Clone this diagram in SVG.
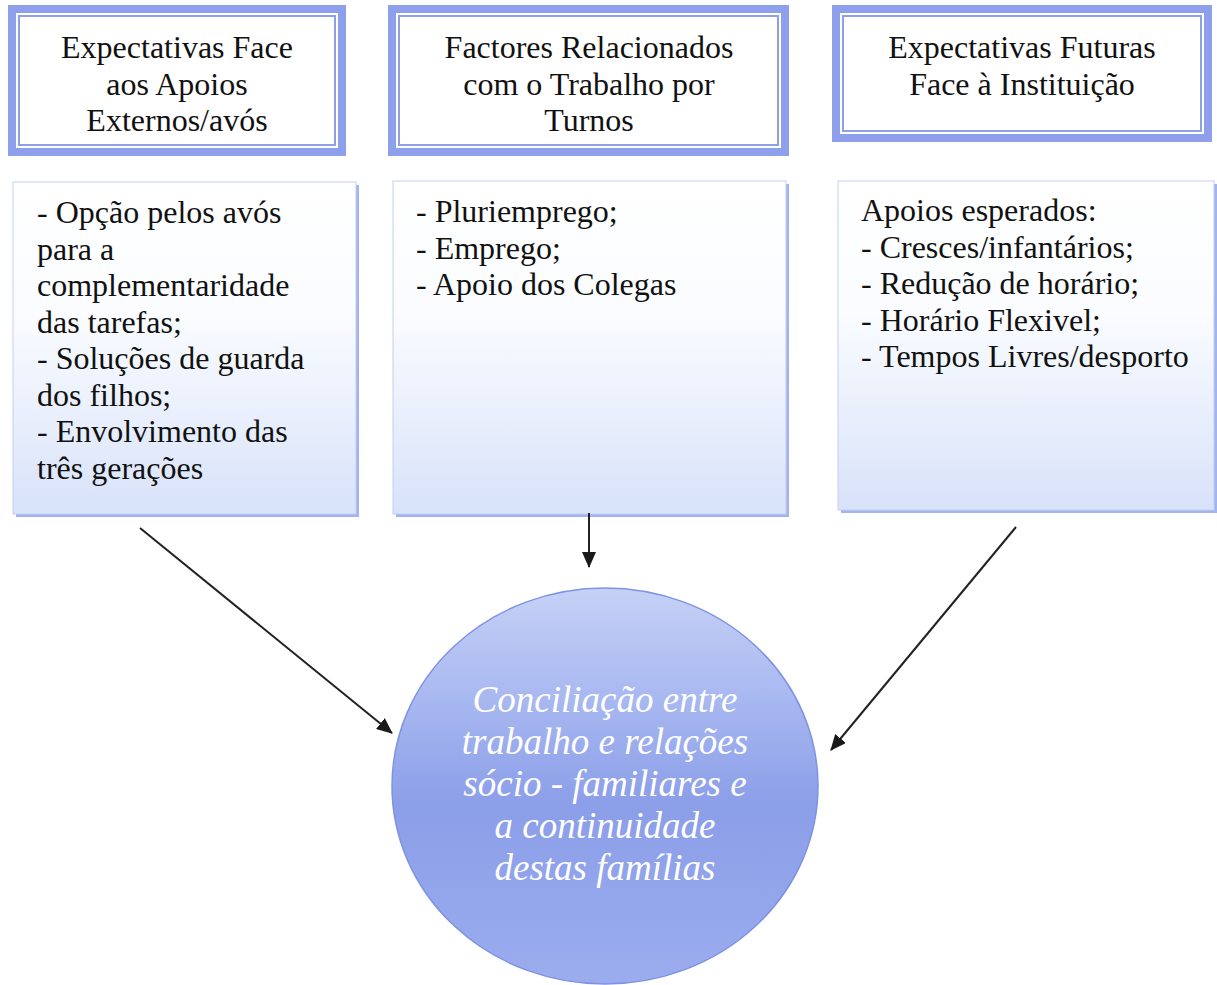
<svg xmlns="http://www.w3.org/2000/svg" width="1217" height="985" viewBox="0 0 1217 985">
<style>
.hdr-outer{fill:none;stroke:#8e9feb;stroke-width:8}
.hdr-inner{fill:none;stroke:#8e9feb;stroke-width:2}
.hdr-bg{fill:#ffffff}
.t{font-family:"Liberation Serif","Times New Roman",serif;font-size:32px;fill:#111}
.hc{text-anchor:middle}
.shadow{fill:#a3b3ec}
.cbox{fill:url(#boxGrad);stroke:#c3cff4;stroke-width:1}
.ct{font-family:"Liberation Serif","Times New Roman",serif;font-size:37px;font-style:italic;fill:#ffffff;text-anchor:middle}
.conn{stroke:#222;stroke-width:2;fill:none;marker-end:url(#arr)}
</style>
<defs>
<linearGradient id="boxGrad" x1="0" y1="0" x2="0" y2="1">
<stop offset="0" stop-color="#ffffff"/>
<stop offset="0.4" stop-color="#fafcff"/>
<stop offset="1" stop-color="#d8e2f9"/>
</linearGradient>
<linearGradient id="circGrad" x1="0" y1="0" x2="0" y2="1">
<stop offset="0" stop-color="#c6d1f6"/>
<stop offset="0.3" stop-color="#a6b6f0"/>
<stop offset="0.55" stop-color="#8b9ee8"/>
<stop offset="1" stop-color="#9badee"/>
</linearGradient>
<marker id="arr" markerWidth="16" markerHeight="14" refX="15" refY="7" orient="auto" markerUnits="userSpaceOnUse">
<path d="M0,0 L16,7 L0,14 Z" fill="#1a1a1a"/>
</marker>
</defs>
<rect width="1217" height="985" fill="#ffffff"/>

<g id="header1">
<rect class="hdr-bg" x="12" y="9" width="330" height="143"/>
<rect class="hdr-outer" x="12" y="9" width="330" height="143"/>
<rect class="hdr-inner" x="19" y="16" width="316" height="129"/>
<text class="t hc" x="177" y="58">Expectativas Face</text>
<text class="t hc" x="177" y="95">aos Apoios</text>
<text class="t hc" x="177" y="131">Externos/avós</text>
</g>

<g id="header2">
<rect class="hdr-bg" x="392" y="9" width="393" height="143"/>
<rect class="hdr-outer" x="392" y="9" width="393" height="143"/>
<rect class="hdr-inner" x="399" y="16" width="379" height="129"/>
<text class="t hc" x="589" y="58">Factores Relacionados</text>
<text class="t hc" x="589" y="95">com o Trabalho por</text>
<text class="t hc" x="589" y="131">Turnos</text>
</g>

<g id="header3">
<rect class="hdr-bg" x="836" y="9" width="372" height="129"/>
<rect class="hdr-outer" x="836" y="9" width="372" height="129"/>
<rect class="hdr-inner" x="843" y="16" width="358" height="115"/>
<text class="t hc" x="1022" y="58">Expectativas Futuras</text>
<text class="t hc" x="1022" y="95">Face à Instituição</text>
</g>

<g id="content1">
<rect class="shadow" x="16" y="185" width="343" height="332"/>
<rect class="cbox" x="13" y="182" width="343" height="332"/>
<text class="t" x="37" y="223">- Opção pelos avós</text>
<text class="t" x="37" y="259.5">para a</text>
<text class="t" x="37" y="296">complementaridade</text>
<text class="t" x="37" y="332.5">das tarefas;</text>
<text class="t" x="37" y="369">- Soluções de guarda</text>
<text class="t" x="37" y="405.5">dos filhos;</text>
<text class="t" x="37" y="442">- Envolvimento das</text>
<text class="t" x="37" y="478.5">três gerações</text>
</g>

<g id="content2">
<rect class="shadow" x="396" y="184" width="393" height="333"/>
<rect class="cbox" x="393" y="181" width="393" height="333"/>
<text class="t" x="416" y="222">- Pluriemprego;</text>
<text class="t" x="416" y="258.5">- Emprego;</text>
<text class="t" x="416" y="295">- Apoio dos Colegas</text>
</g>

<g id="content3">
<rect class="shadow" x="841" y="184" width="376" height="329"/>
<rect class="cbox" x="838" y="181" width="376" height="329"/>
<text class="t" x="861" y="221">Apoios esperados:</text>
<text class="t" x="861" y="257.5">- Cresces/infantários;</text>
<text class="t" x="861" y="294">- Redução de horário;</text>
<text class="t" x="861" y="330.5">- Horário Flexivel;</text>
<text class="t" x="861" y="367">- Tempos Livres/desporto</text>
</g>

<g id="center">
<ellipse cx="605" cy="786" rx="213" ry="198" fill="url(#circGrad)" stroke="#7f93e3" stroke-width="1.5"/>
<text class="ct" x="605" y="712">Conciliação entre</text>
<text class="ct" x="605" y="754">trabalho e relações</text>
<text class="ct" x="605" y="796">sócio - familiares e</text>
<text class="ct" x="605" y="838">a continuidade</text>
<text class="ct" x="605" y="880">destas famílias</text>
</g>

<g id="connectors">
<line class="conn" x1="140" y1="528" x2="392" y2="733"/>
<line class="conn" x1="589" y1="513" x2="589" y2="567"/>
<line class="conn" x1="1016" y1="527" x2="831" y2="750"/>
</g>
</svg>
